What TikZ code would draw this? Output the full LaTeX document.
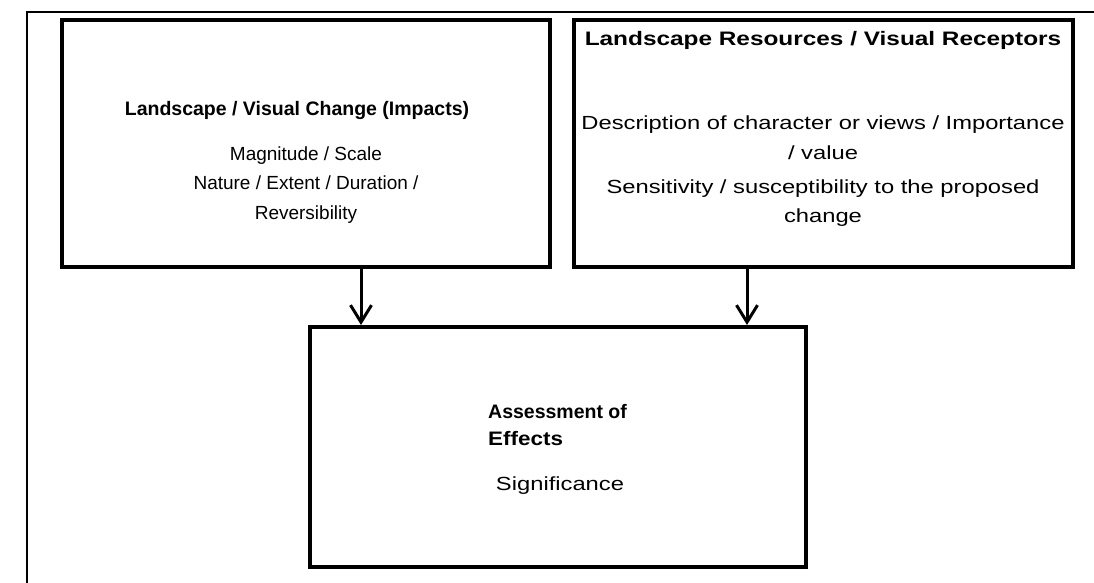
\documentclass[tikz,border=0pt]{standalone}
\usepackage{fontspec}
\setmainfont{Liberation Sans}
\usetikzlibrary{arrows.meta}
\newcommand{\wide}[1]{\scalebox{1.25}[1]{#1}}
\begin{document}
\begin{tikzpicture}[x=1pt,y=-1pt,
  box/.style={draw,line width=4pt,inner sep=0pt},
  txt/.style={inner sep=0pt,font=\fontsize{19}{19}\selectfont,anchor=base},
  ttl/.style={txt,font=\bfseries\fontsize{19.5}{19.5}\selectfont},
  arr/.style={line width=3pt,-{Straight Barb[length=17pt,width=21pt,line width=3pt]}}]
\useasboundingbox (0,0) rectangle (1094,583);
\draw[line width=1.5pt] (27,583) -- (27,12) -- (1094,12);
\node[box,minimum width=488pt,minimum height=246.5pt] (lbox) at (306,143.75) {};
\node[box,minimum width=499pt,minimum height=246.5pt] (rbox) at (823.5,143.75) {};
\node[box,minimum width=496.5pt,minimum height=240pt] (bbox) at (557.75,447) {};
% left box text
\node[ttl] (lt) at (297,116) {Landscape / Visual Change (Impacts)};
\node[txt] (l1) at (306,160) {Magnitude / Scale};
\node[txt] (l2) at (306,189) {Nature / Extent / Duration /};
\node[txt] (l3) at (306,219) {Reversibility};
% right box text
\node[ttl] (rt) at (823,46) {\wide{Landscape Resources / Visual Receptors}};
\node[txt] (r1) at (823,129) {\wide{Description of character or views / Importance}};
\node[txt] (r2) at (823,159) {\wide{/ value}};
\node[txt] (r3) at (823,193) {\wide{Sensitivity / susceptibility to the proposed}};
\node[txt] (r4) at (823,222) {\wide{change}};
% bottom box text
\node[ttl,anchor=base west] (bt1) at (488,418) {Assessment of};
\node[ttl,anchor=base west] (bt2) at (488,445) {\scalebox{1.15}[1]{Effects}};
\node[txt] (b1) at (560,490) {\wide{Significance}};
% arrows
\coordinate (xa) at (361,0);
\coordinate (xb) at (747,0);
\draw[arr] (lbox.south -| xa) -- (bbox.north -| xa);
\draw[arr] (rbox.south -| xb) -- (bbox.north -| xb);
\end{tikzpicture}
\end{document}
